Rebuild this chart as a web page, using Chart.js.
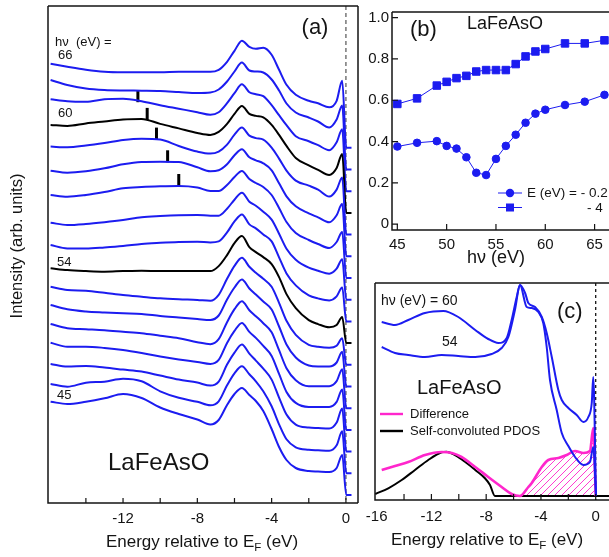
<!DOCTYPE html>
<html>
<head>
<meta charset="utf-8">
<script src="https://cdn.jsdelivr.net/npm/chart.js@4.4.1/dist/chart.umd.min.js"></script>
<style>
  body { margin: 0; background: #fff; overflow: hidden; width: 609px; height: 557px; }
  canvas { position: absolute; left: 0; top: 0; }
</style>
</head>
<body>
<canvas id="panelA" width="609" height="557"></canvas>
<canvas id="panelB" width="609" height="557"></canvas>
<canvas id="panelC" width="609" height="557"></canvas>
<script>
// ---- panel (a): EDCs, stacked by photon energy ----
const edcEnergy = [-15.9, -15, -14, -13, -12, -11, -10, -9, -8, -7.3, -6.85, -6.4, -6.0, -5.6,
  -5.2, -4.85, -4.45, -4.0, -3.6, -3.2, -2.7, -2.0, -1.5, -0.9, -0.5, -0.2, 0.02, 0.3];

const edc45 = [93.3, 91, 93.3, 96.7, 101, 97, 87.5, 81, 75.5, 70.5, 75, 90, 101, 107, 100, 94, 84, 66, 48, 35, 27, 24, 23.5, 23, 27, 40, 0, 0];
const edc47 = [89.3, 86.6, 90.6, 91.6, 94.5, 92, 82, 75.5, 71.5, 68, 72, 88, 100, 107, 99, 92, 82, 67, 49, 34, 26, 23.5, 23, 22.5, 28, 42, 0, 0];
const edc49 = [87.6, 85, 85.5, 84, 82, 80, 76, 72, 69, 66, 70, 87, 99, 107, 98, 91, 83, 72, 54, 37, 27, 24, 23.5, 23, 29, 43, 0, 0];
const edc50 = [87.2, 83.2, 83.2, 82, 80, 77, 73.5, 70.5, 68, 66, 70, 87, 99, 107, 98, 92, 84, 74, 56, 38, 27, 23, 23, 23, 28, 40.5, 0, 0];
const edc51 = [84.2, 80, 79, 78, 76.5, 75, 72.5, 70, 66, 64, 69, 86, 99, 107, 98, 92, 85, 76, 58, 40, 28, 22, 22, 22, 27, 39, 0, 0];
const edc52 = [81.5, 77.2, 75, 74, 73.2, 72.5, 70.5, 69, 67.5, 66.5, 71, 87, 99, 107, 98, 92, 85, 77, 60, 42, 29, 21, 20, 20, 24, 34.7, 0, 0];
const edc53 = [78, 74.8, 74, 72, 69.8, 68.1, 66.5, 65.5, 64.8, 64, 70, 86, 99, 107, 98, 92, 86, 78, 62, 44, 30, 20, 18, 17, 19, 26.5, 0, 0];
const edc54 = [74.8, 73, 72, 71.4, 72, 72.4, 72, 72, 72, 72, 77, 88, 100, 107, 96, 91, 86, 79, 66, 49, 35, 23, 19, 15.8, 18, 26, 0, 0];
const edc55 = [76.4, 73, 73, 74, 75.4, 77.5, 78.6, 79.4, 79.7, 79, 80, 89, 100, 107, 97, 93, 87, 80, 64, 48, 36, 26, 23, 21, 25, 34, 0, 0];
const edc56 = [77, 74.7, 75.7, 77.5, 79.7, 82.5, 83.7, 84.5, 84.7, 84, 84, 91, 100, 107, 98, 94, 88, 80, 66, 51, 40, 32, 29, 26, 31, 40.5, 0, 0];
const edc57 = [83, 81.3, 83, 86, 89.7, 91, 91.7, 92, 90.5, 87, 87, 93, 101, 107, 99, 95, 91, 83, 70, 56, 45, 38, 34, 30, 36, 46, 0, 0];
const edc58 = [85.6, 83.6, 85, 88, 92, 94.3, 94.6, 94.3, 89, 85, 86, 92, 101, 107, 99, 96, 93, 86, 73, 60, 50, 43, 39, 34, 41, 52.5, 0, 0];
const edc59 = [88, 87.3, 89, 91.5, 94.5, 95.8, 95, 88.6, 83, 81, 83, 90, 100, 107, 99, 96.5, 95, 87, 76, 64, 54, 49, 45, 38, 45, 57, 0, 0];
const edc60 = [88, 87, 89.5, 91.5, 93.5, 94, 89, 84.5, 80, 78, 81, 89, 99, 107, 99, 97, 95.5, 88, 78, 67, 55, 47.5, 43, 38, 45, 59, 0, 0];
const edc62 = [92, 90, 89.5, 92, 92.5, 90, 86, 82.5, 79, 76.5, 79, 88, 98, 107, 99, 97, 95, 86, 76, 66, 55, 50, 46, 41, 49, 62, 0, 0];
const edc64 = [89.5, 84.5, 81, 79.5, 79, 78.8, 78.5, 77.5, 76.5, 77, 80, 88, 98, 107, 99, 98, 97, 90, 79, 66, 57, 52, 48, 42, 50, 64, 0, 0];
const edc66 = [84, 81, 78, 76, 75.5, 75.5, 75.5, 76, 76, 76, 78, 86, 97, 107, 101, 99, 100, 93, 78, 63, 53, 47, 44.5, 40.5, 47, 67, 0, 0];

const edcPhoton = [45, 47, 49, 50, 51, 52, 53, 54, 55, 56, 57, 58, 59, 60, 62, 64, 66];
const edcCurves = [edc45, edc47, edc49, edc50, edc51, edc52, edc53, edc54, edc55, edc56,
  edc57, edc58, edc59, edc60, edc62, edc64, edc66];
const blackCurves = [54, 60];

// short bars marking the dispersing feature
const markEnergy = [-11.2, -10.7, -10.2, -9.6, -9.0];
const markCurve = [62, 60, 59, 58, 57];
const markLevel = [95, 99, 101, 100, 98];

// ---- panel (b): intensity vs photon energy ----
const hvValues = [45, 47, 49, 50, 51, 52, 53, 54, 55, 56, 57, 58, 59, 60, 62, 64, 66];
const nearEf = [0.376, 0.394, 0.402, 0.379, 0.366, 0.324, 0.249, 0.238, 0.316, 0.379, 0.433,
  0.491, 0.535, 0.554, 0.577, 0.593, 0.626];
const deepLevel = [0.582, 0.609, 0.671, 0.689, 0.707, 0.718, 0.739, 0.746, 0.746, 0.746, 0.775,
  0.812, 0.836, 0.848, 0.875, 0.875, 0.89];

// ---- panel (c): 60 eV vs 54 eV, difference and PDOS ----
const c60E = [-15.63, -14.66, -13.69, -12.47, -11.13, -10.04, -8.8, -7.85, -7.11, -6.5, -6.14, -5.77,
  -5.53, -5.16, -4.92, -4.43, -3.94, -3.58, -3.21, -2.73, -2.48, -2.0, -1.39, -0.9, -0.54, -0.29, -0.18, 0.02];
const c60I = [178, 175, 180, 187, 189, 183, 170, 161, 157, 162, 180, 203,
  215, 207, 197, 193, 183, 167, 143, 110, 100, 92, 85, 78, 83, 97, 123, 4];
const c54E = [-15.63, -14.66, -13.69, -12.47, -11.25, -10.04, -8.8, -7.6, -6.87, -6.38, -5.9, -5.53,
  -5.04, -4.67, -4.19, -3.83, -3.58, -3.34, -2.85, -2.48, -2.0, -1.51, -0.9, -0.42, -0.18, 0.02];
const c54I = [153, 147, 145, 143, 145, 144, 143, 146, 152, 163, 190, 215,
  193, 192, 188, 177, 153, 120, 90, 67, 54, 43, 35, 38, 53, 4];
const diffE = [-15.63, -14.66, -13.69, -12.47, -11.25, -10.5, -9.8, -8.8, -7.85, -6.87, -6.14, -5.53,
  -4.92, -4.67, -3.94, -3.46, -2.73, -2.12, -1.51, -0.9, -0.42, -0.18, 0.0];
const diffI = [30, 34, 38, 45, 48, 47, 43, 33, 23, 13, 6, 4,
  13, 17, 33, 40, 42, 45, 49, 47, 49, 72, 4];
const pdosE = [-16.1, -15.15, -14.17, -13.2, -12.23, -11.25, -10.9, -10.28, -9.55, -8.8, -8.09, -7.72,
  -7.36, -4, 0, 0.97];
const pdosI = [6, 11.7, 20, 30, 40, 47.7, 48.3, 45, 38.3, 30, 21.7, 15, 4, 4, 4, 4];

const FONT = "'Liberation Sans', Arial, sans-serif";
const BLUE = '#1c1cf0';
const PINK = '#ff26cc';
const INK = '#141414';
const stackBase = 8, stackStep = 21.7;

function label(ctx, str, x, y, px, align) {
  ctx.font = px + 'px ' + FONT;
  ctx.fillStyle = INK;
  ctx.textAlign = align || 'left';
  ctx.textBaseline = 'middle';
  ctx.fillText(str, x, y);
}

function energyTitle(ctx, cx, cy, px) {
  const a = 'Energy relative to E', b = 'F', c = ' (eV)';
  ctx.font = px + 'px ' + FONT;
  const wa = ctx.measureText(a).width, wc = ctx.measureText(c).width;
  ctx.font = (px * 0.68) + 'px ' + FONT;
  const wb = ctx.measureText(b).width;
  let x = cx - (wa + wb + wc) / 2;
  label(ctx, a, x, cy, px); x += wa;
  label(ctx, b, x, cy + px * 0.32, px * 0.68); x += wb;
  label(ctx, c, x, cy, px);
}

function frame(chart, sides, xLen, yLen) {
  const { ctx, chartArea: a } = chart;
  ctx.save();
  ctx.strokeStyle = INK;
  ctx.lineWidth = 1.5;
  ctx.beginPath();
  if (sides.includes('l')) { ctx.moveTo(a.left, a.top); ctx.lineTo(a.left, a.bottom); }
  if (sides.includes('t')) { ctx.moveTo(a.left, a.top); ctx.lineTo(a.right, a.top); }
  if (sides.includes('r')) { ctx.moveTo(a.right, a.top); ctx.lineTo(a.right, a.bottom); }
  if (sides.includes('b')) { ctx.moveTo(a.left - 0.75, a.bottom); ctx.lineTo(a.right, a.bottom); }
  ctx.stroke();
  ctx.lineWidth = 1.2;
  ctx.beginPath();
  const xs = chart.scales.x;
  xs.ticks.forEach(t => {
    const px = xs.getPixelForValue(t.value);
    if (px > a.left + 2 && px < a.right - 1) { ctx.moveTo(px, a.bottom); ctx.lineTo(px, a.bottom - xLen); }
  });
  if (yLen) {
    const ys = chart.scales.y;
    ys.ticks.forEach(t => {
      const py = ys.getPixelForValue(t.value);
      ctx.moveTo(a.left, py); ctx.lineTo(a.left + yLen, py);
    });
  }
  ctx.stroke();
  ctx.restore();
}

function zeroLine(chart, color, dash) {
  const { ctx, chartArea: a } = chart;
  const x = chart.scales.x.getPixelForValue(0);
  ctx.save();
  ctx.strokeStyle = color;
  ctx.lineWidth = 1.2;
  ctx.setLineDash(dash);
  ctx.beginPath(); ctx.moveTo(x, a.top); ctx.lineTo(x, a.bottom); ctx.stroke();
  ctx.restore();
}

function tickFont() { return { family: FONT, size: 15 }; }
const noGrid = { display: false, drawTicks: false, tickLength: 0 };

const baseOptions = (padding) => ({
  responsive: false, animation: false, devicePixelRatio: 1,
  layout: { autoPadding: false, padding },
  plugins: { legend: { display: false }, tooltip: { enabled: false } },
  elements: { point: { radius: 0 } }
});

// ---------- (a) ----------
const aSets = edcPhoton.map((hv, i) => ({
  data: edcEnergy.map((e, k) => ({ x: e, y: stackBase + i * stackStep + edcCurves[i][k] })),
  borderColor: blackCurves.includes(hv) ? '#000' : BLUE,
  borderWidth: 2,
  pointRadius: 0,
  cubicInterpolationMode: 'monotone',
  fill: false
}));
aSets.push({
  data: markEnergy.map((e, i) => ({ x: e, y: stackBase + edcPhoton.indexOf(markCurve[i]) * stackStep + markLevel[i] })),
  showLine: false,
  pointStyle: 'line',
  pointRotation: 90,
  pointRadius: 6,
  pointBorderWidth: 3,
  pointBorderColor: '#000',
  borderColor: '#000'
});

const optA = baseOptions({ left: 48, top: 6, right: 251, bottom: 24 });
optA.scales = {
  x: {
    type: 'linear', min: -16.04, max: 0.65,
    grid: noGrid, border: { display: false },
    ticks: { stepSize: 2, includeBounds: false, autoSkip: false, maxRotation: 0, padding: 7,
      font: tickFont(), color: INK,
      callback: v => (v % 4 === 0 && v > -16) ? String(v) : '' },
    afterFit: s => { s.height = 30; }
  },
  y: { display: false, min: 0, max: 497 }
};

new Chart(document.getElementById('panelA'), {
  type: 'line',
  data: { datasets: aSets },
  options: optA,
  plugins: [{
    id: 'panelAExtras',
    beforeDatasetsDraw: c => zeroLine(c, '#555', [4, 3]),
    afterDatasetsDraw(c) {
      const ctx = c.ctx;
      frame(c, 'ltrb', 5, 0);
      label(ctx, '(a)', 315, 28, 22, 'center');
      label(ctx, 'hν  (eV) =', 55, 42, 13);
      label(ctx, '66', 58, 55, 13);
      label(ctx, '60', 58, 113, 13);
      label(ctx, '54', 57, 262, 13);
      label(ctx, '45', 57, 395, 13);
      label(ctx, 'LaFeAsO', 108, 463, 24);
      ctx.save();
      ctx.translate(17, 246); ctx.rotate(-Math.PI / 2);
      label(ctx, 'Intensity (arb. units)', 0, 0, 16.5, 'center');
      ctx.restore();
      energyTitle(ctx, 202, 542, 17);
    }
  }]
});

// ---------- (b) ----------
const optB = baseOptions({ left: 362, top: 5, right: 0, bottom: 300 });
optB.scales = {
  x: {
    type: 'linear', min: 44.46, max: 66.46,
    grid: noGrid, border: { display: false },
    ticks: { stepSize: 5, includeBounds: false, autoSkip: false, maxRotation: 0, padding: 6,
      font: tickFont(), color: INK },
    afterFit: s => { s.height = 27; }
  },
  y: {
    min: -0.028, max: 1.027,
    grid: noGrid, border: { display: false },
    ticks: { stepSize: 0.2, includeBounds: false, autoSkip: false, padding: 3,
      font: tickFont(), color: INK,
      callback: v => Math.abs(v) < 1e-9 ? '0' : v.toFixed(1) },
    afterFit: s => { s.width = 30; }
  }
};

new Chart(document.getElementById('panelB'), {
  type: 'line',
  data: {
    datasets: [
      { data: hvValues.map((h, i) => ({ x: h, y: nearEf[i] })), borderColor: BLUE, borderWidth: 1,
        pointStyle: 'circle', pointRadius: 3.8, pointBackgroundColor: BLUE, pointBorderColor: BLUE,
        pointBorderWidth: 1, tension: 0 },
      { data: hvValues.map((h, i) => ({ x: h, y: deepLevel[i] })), borderColor: BLUE, borderWidth: 1,
        pointStyle: 'rect', pointRadius: 5.3, pointBackgroundColor: BLUE, pointBorderColor: BLUE,
        pointBorderWidth: 1, tension: 0 }
    ]
  },
  options: optB,
  plugins: [{
    id: 'panelBExtras',
    afterDatasetsDraw(c) {
      const ctx = c.ctx;
      frame(c, 'ltb', 6, 6);
      label(ctx, '(b)', 410, 30, 22);
      label(ctx, 'LaFeAsO', 467, 24, 18);
      label(ctx, 'hν (eV)', 496, 258, 18, 'center');
      // legend
      ctx.save();
      ctx.strokeStyle = BLUE; ctx.fillStyle = BLUE; ctx.lineWidth = 1.2;
      ctx.beginPath(); ctx.moveTo(498, 193); ctx.lineTo(522, 193); ctx.moveTo(498, 207.5); ctx.lineTo(522, 207.5); ctx.stroke();
      ctx.beginPath(); ctx.arc(510, 193, 4.2, 0, Math.PI * 2); ctx.fill();
      ctx.fillRect(506, 203.5, 8, 8);
      ctx.restore();
      label(ctx, 'E (eV) = - 0.2', 527, 193, 13.5);
      label(ctx, '- 4', 587, 208, 13.5);
    }
  }]
});

// ---------- (c) ----------
const cCanvas = document.getElementById('panelC');
const hatchTile = document.createElement('canvas');
hatchTile.width = 7; hatchTile.height = 7;
const ht = hatchTile.getContext('2d');
ht.strokeStyle = PINK; ht.lineWidth = 0.9;
ht.beginPath(); ht.moveTo(0, 7); ht.lineTo(7, 0); ht.moveTo(-1, 1); ht.lineTo(1, -1); ht.moveTo(6, 8); ht.lineTo(8, 6); ht.stroke();
const hatch = cCanvas.getContext('2d').createPattern(hatchTile, 'repeat');

const pts = (xs, ys) => xs.map((x, i) => ({ x, y: ys[i] }));

const optC = baseOptions({ left: 375, top: 283, right: 0, bottom: 27 });
optC.scales = {
  x: {
    type: 'linear', min: -16.12, max: 0.97,
    grid: noGrid, border: { display: false },
    ticks: { stepSize: 2, includeBounds: false, autoSkip: false, maxRotation: 0, padding: 8,
      font: tickFont(), color: INK,
      callback: v => (v % 4 === 0) ? String(v) : '' },
    afterFit: s => { s.height = 30; }
  },
  y: { display: false, min: 0, max: 217 }
};

new Chart(cCanvas, {
  type: 'line',
  data: {
    datasets: [
      { data: pts(c60E, c60I), borderColor: BLUE, borderWidth: 2, cubicInterpolationMode: 'monotone', order: 1 },
      { data: pts(c54E, c54I), borderColor: BLUE, borderWidth: 2, cubicInterpolationMode: 'monotone', order: 2 },
      { data: pts(diffE, diffI), borderColor: PINK, borderWidth: 2.6, cubicInterpolationMode: 'monotone', order: 3 },
      { data: pts(pdosE, pdosI), borderColor: '#000', borderWidth: 2, cubicInterpolationMode: 'monotone', order: 4 },
      { data: pts(diffE, diffI).filter(p => p.x >= -5.53), borderWidth: 0, borderColor: 'rgba(0,0,0,0)',
        backgroundColor: hatch, fill: { value: 4 }, cubicInterpolationMode: 'monotone', order: 9 }
    ]
  },
  options: optC,
  plugins: [{
    id: 'panelCExtras',
    beforeDatasetsDraw: c => zeroLine(c, '#000', [3, 3]),
    afterDatasetsDraw(c) {
      const ctx = c.ctx;
      frame(c, 'ltb', 6, 0);
      label(ctx, 'hν (eV) = 60', 381, 301, 14);
      label(ctx, '54', 442, 342, 14);
      label(ctx, 'LaFeAsO', 417, 388, 20);
      label(ctx, '(c)', 557, 312, 22);
      ctx.save();
      ctx.lineWidth = 2.4;
      ctx.strokeStyle = PINK; ctx.beginPath(); ctx.moveTo(380, 414); ctx.lineTo(403, 414); ctx.stroke();
      ctx.strokeStyle = '#000'; ctx.beginPath(); ctx.moveTo(380, 431); ctx.lineTo(403, 431); ctx.stroke();
      ctx.restore();
      label(ctx, 'Difference', 410, 414, 13);
      label(ctx, 'Self-convoluted PDOS', 410, 431, 13);
      energyTitle(ctx, 487, 540, 17);
    }
  }]
});
</script>
</body>
</html>
